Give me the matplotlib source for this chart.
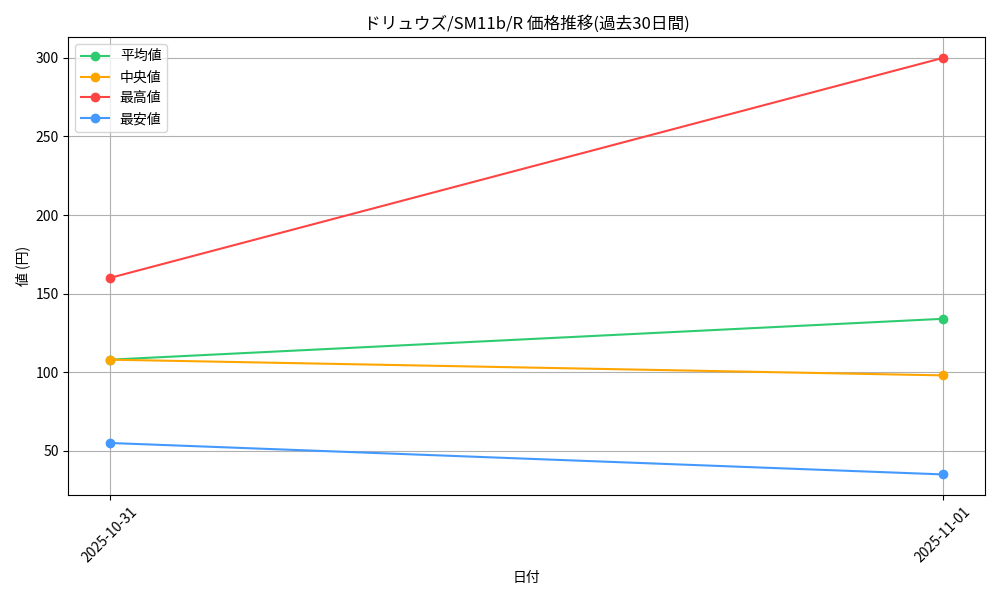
import matplotlib
matplotlib.use('Agg')
import matplotlib.pyplot as plt

plt.rcParams['font.family'] = ['Noto Sans CJK JP', 'DejaVu Sans']

dates = ['2025-10-31', '2025-11-01']
avg_price = [108, 134]
median_price = [108, 98]
max_price = [160, 300]
min_price = [55, 35]

fig, ax = plt.subplots(figsize=(10, 6), dpi=100)
ax.plot(dates, avg_price, marker='o', color='#2ecc71', label='平均値')
ax.plot(dates, median_price, marker='o', color='#ffa500', label='中央値')
ax.plot(dates, max_price, marker='o', color='#ff4444', label='最高値')
ax.plot(dates, min_price, marker='o', color='#4499ff', label='最安値')

ax.set_title('ドリュウズ/SM11b/R 価格推移(過去30日間)')
ax.set_xlabel('日付')
ax.set_ylabel('値 (円)')
ax.grid(True)
ax.legend(loc='upper left')
plt.xticks(rotation=45)
plt.tight_layout()
plt.savefig('out.png')
